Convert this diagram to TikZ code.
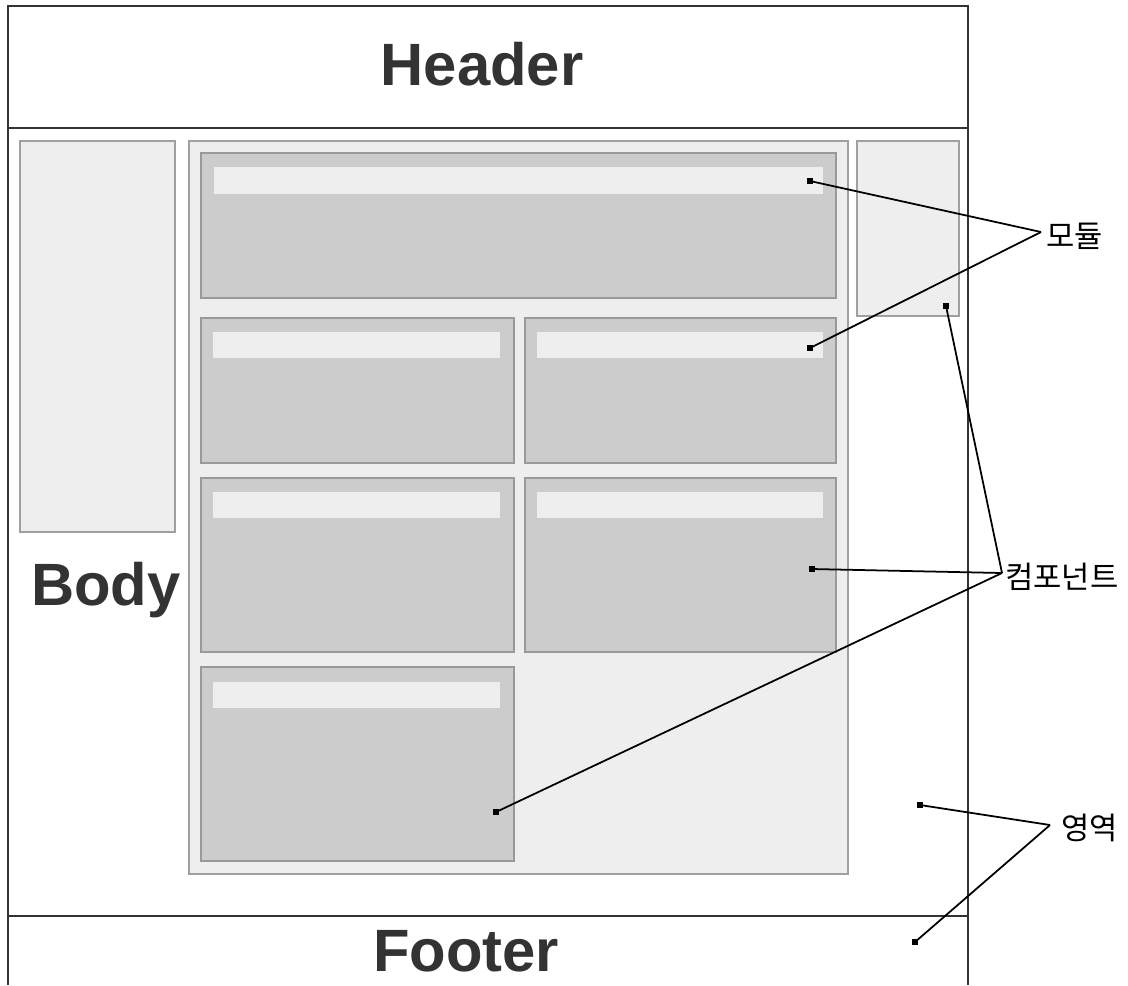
\documentclass[tikz,border=0pt]{standalone}
\usepackage{fontspec}
\setmainfont{Liberation Sans}
\newfontfamily\krfont{Noto Sans CJK KR}
\definecolor{frameline}{HTML}{333333}
\definecolor{boxline}{HTML}{A0A0A0}
\definecolor{lightfill}{HTML}{EEEEEE}
\definecolor{modfill}{HTML}{CCCCCC}
\definecolor{modline}{HTML}{999999}
\tikzset{
  areabox/.style={draw=boxline,fill=lightfill,line width=1pt},
  modbox/.style={draw=modline,fill=modfill,line width=1pt},
  titlebar/.style={fill=lightfill},
  bigtext/.style={font=\fontsize{34}{34}\selectfont\bfseries,text=frameline,anchor=base,inner sep=0pt},
  krtext/.style={font=\krfont\fontsize{17.5}{17.5}\selectfont,anchor=west,inner sep=0pt},
  dot/.style={fill=black,inner sep=0pt,minimum size=3.4pt},
  leader/.style={line width=1pt}
}
\begin{document}
\begin{tikzpicture}[x=0.02cm,y=-0.02cm]
    \useasboundingbox (0,0) rectangle (1128,985);
    % outer frame
    \draw[frameline,line width=1.2pt] (8,985)--(8,6)--(968,6)--(968,985);
    \draw[frameline,line width=1.2pt] (8,128)--(968,128);
    \draw[frameline,line width=1.2pt] (8,916)--(968,916);
    % areas
    \draw[areabox] (20,141) rectangle (175,532);
    \draw[areabox] (189,141) rectangle (848,874);
    \draw[areabox] (857,141) rectangle (959,316);
    % modules
    \draw[modbox] (201,153) rectangle (836,298);
    \fill[titlebar] (214,167) rectangle (823,194);
    \draw[modbox] (201,318) rectangle (514,463);
    \fill[titlebar] (213,332) rectangle (500,358);
    \draw[modbox] (525,318) rectangle (836,463);
    \fill[titlebar] (537,332) rectangle (823,358);
    \draw[modbox] (201,478) rectangle (514,652);
    \fill[titlebar] (213,492) rectangle (500,518);
    \draw[modbox] (525,478) rectangle (836,652);
    \fill[titlebar] (537,492) rectangle (823,518);
    \draw[modbox] (201,667) rectangle (514,861);
    \fill[titlebar] (213,682) rectangle (500,708);
    % titles
    \node[bigtext] (hd) at (482,85) {Header};
    \node[bigtext] (bd) at (106,605) {Body};
    \node[bigtext] (ft) at (466,971) {Footer};
    % labels
    \node[krtext] (lm) at (1046,236) {모듈};
    \node[krtext] (lc) at (1005,577) {컴포넌트};
    \node[krtext] (la) at (1061,828) {영역};
    \coordinate (am) at (1041,232);
    \coordinate (ac) at (1002,573);
    \coordinate (aa) at (1050,825);
    % dots
    \node[dot] (m1) at (810,181) {};
    \node[dot] (m2) at (810,348) {};
    \node[dot] (c1) at (946,306) {};
    \node[dot] (c2) at (812,569) {};
    \node[dot] (c3) at (496,812) {};
    \node[dot] (a1) at (920,805) {};
    \node[dot] (a2) at (915,942) {};
    % leaders
    \draw[leader] (m1.center)--(am);
    \draw[leader] (m2.center)--(am);
    \draw[leader] (c1.center)--(ac);
    \draw[leader] (c2.center)--(ac);
    \draw[leader] (c3.center)--(ac);
    \draw[leader] (a1.center)--(aa);
    \draw[leader] (a2.center)--(aa);
  \end{tikzpicture}
\end{document}
